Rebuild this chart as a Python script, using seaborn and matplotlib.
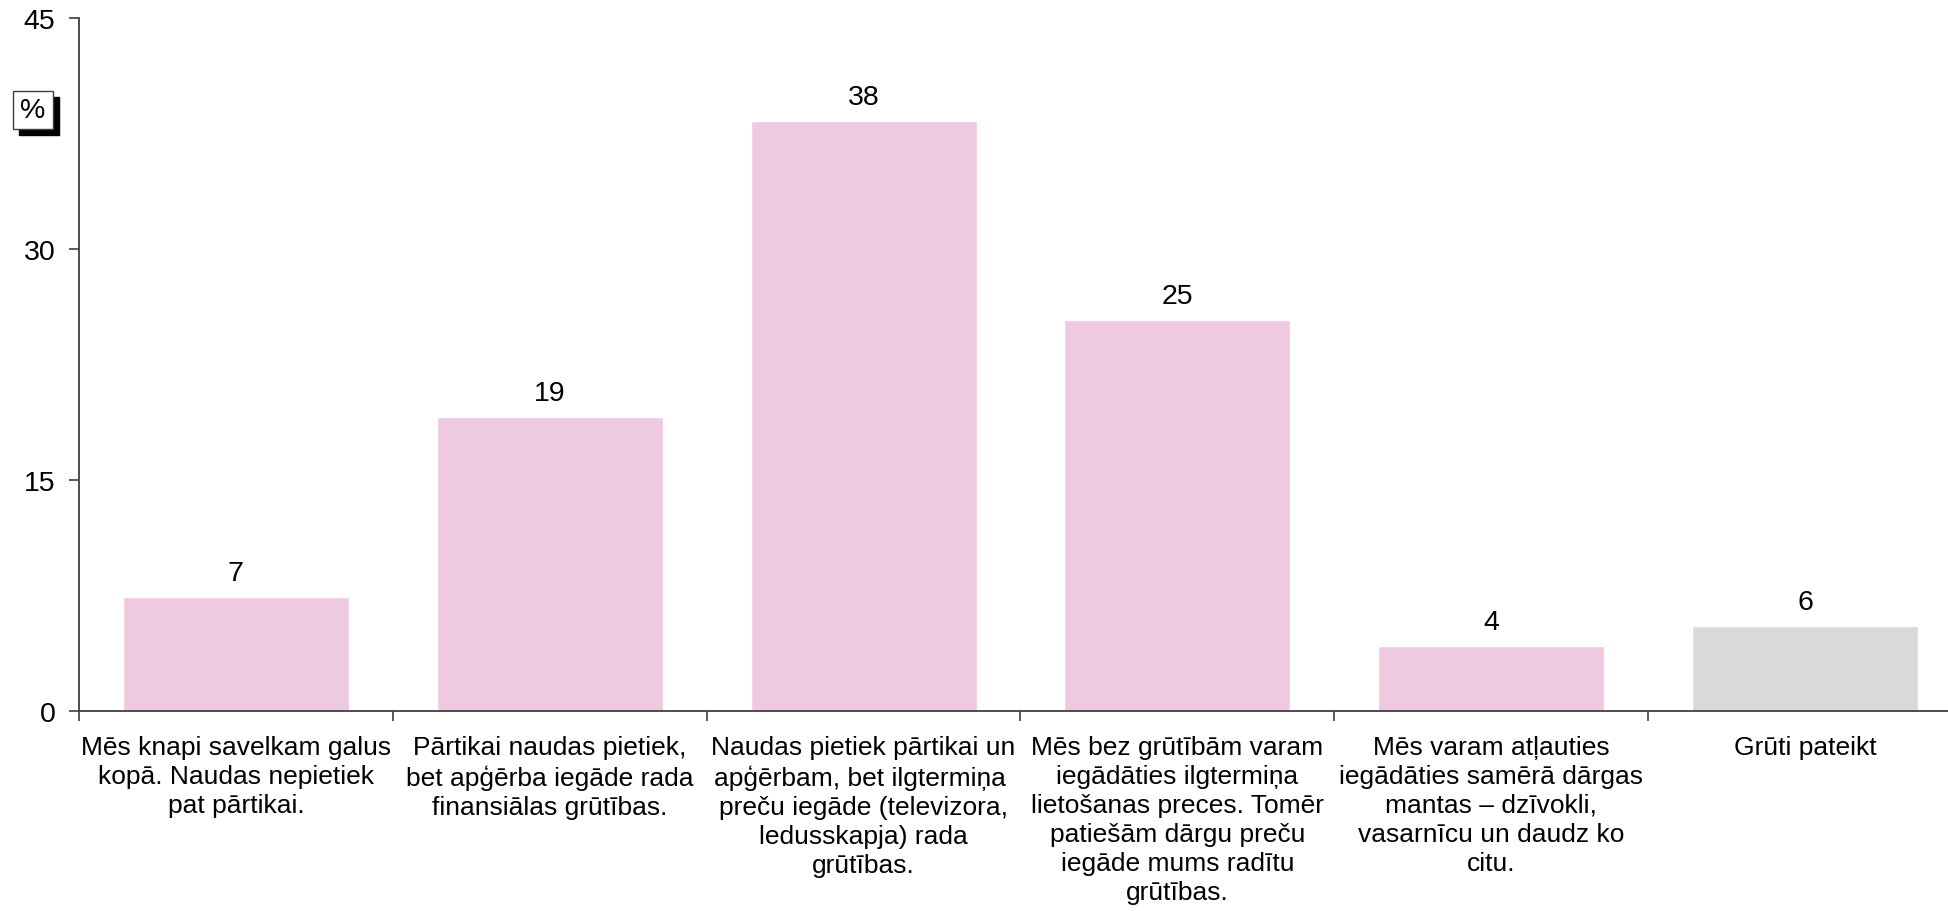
import matplotlib
matplotlib.use("Agg")
import matplotlib.pyplot as plt
from matplotlib.patches import Rectangle
import seaborn as sns
import pandas as pd

categories = [
    "Mēs knapi savelkam galus\nkopā. Naudas nepietiek\npat pārtikai.",
    "Pārtikai naudas pietiek,\nbet apģērba iegāde rada\nfinansiālas grūtības.",
    "Naudas pietiek pārtikai un\napģērbam, bet ilgtermiņa \npreču iegāde (televizora,\nledusskapja) rada\ngrūtības.",
    "Mēs bez grūtībām varam\niegādāties ilgtermiņa\nlietošanas preces. Tomēr\npatiešām dārgu preču\niegāde mums radītu\ngrūtības.",
    "Mēs varam atļauties\niegādāties samērā dārgas\nmantas – dzīvokli,\nvasarnīcu un daudz ko\ncitu.",
    "Grūti pateikt",
]
values = [7.4, 19.1, 38.3, 25.4, 4.2, 5.5]
bar_colors = ["#EEC9DF", "#EEC9DF", "#EEC9DF", "#EEC9DF", "#EEC9DF", "#D9D9D9"]
y_ticks = [0, 15, 30, 45]
unit_label = "%"

sns.set_theme(style="white")
plt.rcParams["font.family"] = ["Liberation Sans", "DejaVu Sans"]
plt.rcParams["text.color"] = "black"
plt.rcParams["xtick.color"] = "black"
plt.rcParams["ytick.color"] = "black"

df = pd.DataFrame({"category": categories, "value": values})

fig = plt.figure(figsize=(19.49, 9.12), dpi=100)
ax = fig.add_axes([0.0405, 0.2193, 0.9662, 0.7599])

sns.barplot(data=df, x="category", y="value", hue="category",
            palette=bar_colors, legend=False, width=0.72,
            saturation=1, ax=ax)

ax.set_xlim(-0.5, len(categories) - 0.5)
ax.set_ylim(0, 45)
ax.set_yticks(y_ticks)
ax.set_xlabel("")
ax.set_ylabel("")

for spine in ["top", "right"]:
    ax.spines[spine].set_visible(False)
for spine in ["left", "bottom"]:
    ax.spines[spine].set_color("#404040")
    ax.spines[spine].set_linewidth(1.3)

ax.tick_params(axis="y", which="major", direction="out", length=7,
               width=1.2, color="#404040", labelsize=20.5, pad=10,
               left=True, labelcolor="black")
ax.tick_params(axis="x", which="major", length=0, labelsize=19, pad=17,
               labelcolor="black")
ax.set_xticks(range(len(categories)))
ax.set_xticklabels(categories, linespacing=1.27)
ax.set_xticks([i - 0.5 for i in range(len(categories) + 1)], minor=True)
ax.tick_params(axis="x", which="minor", direction="out", length=7,
               width=1.2, color="#404040", bottom=True)

for container in ax.containers:
    ax.bar_label(container, fmt="%.0f", padding=8, fontsize=20.5,
                 color="black")

# unit box with a drop shadow at the upper left
fig.patches.append(Rectangle((19 / 1949, 1 - 136 / 912), 40 / 1949, 38 / 912,
                             transform=fig.transFigure, facecolor="black",
                             edgecolor="black", zorder=5))
fig.patches.append(Rectangle((13 / 1949, 1 - 130 / 912), 40 / 1949, 38 / 912,
                             transform=fig.transFigure, facecolor="white",
                             edgecolor="#404040", linewidth=1, zorder=6))
fig.text(33 / 1949, 1 - 111 / 912, unit_label, ha="center", va="center",
         fontsize=20.5, zorder=7)

fig.savefig("out.png", dpi=100)
